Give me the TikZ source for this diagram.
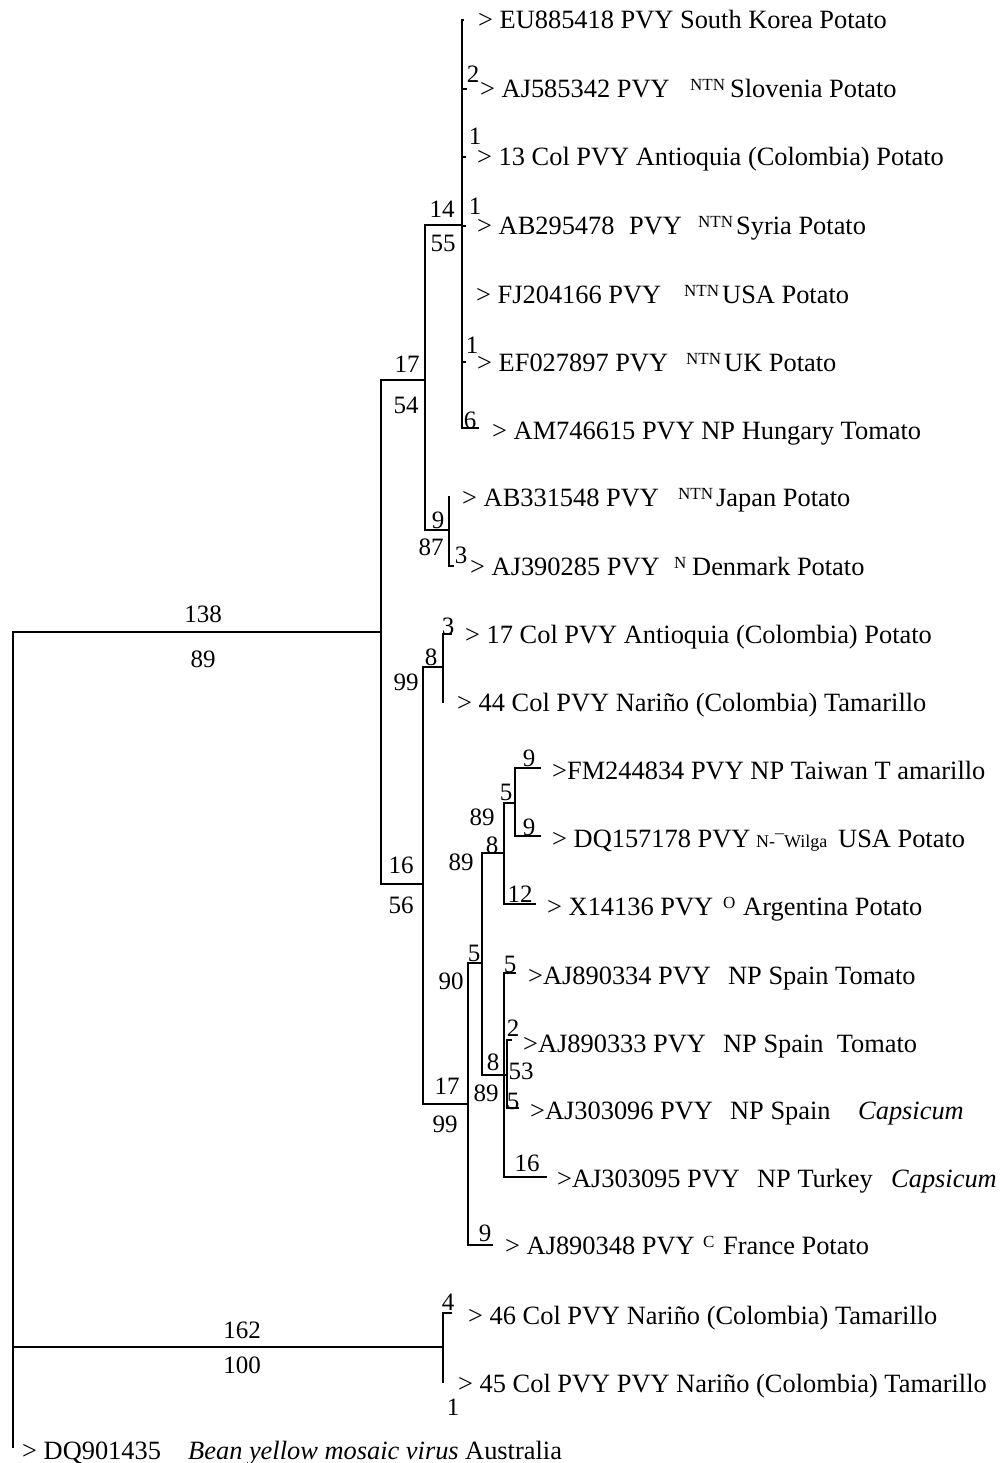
\documentclass[tikz,border=0pt]{standalone}
\usepackage{fontspec}
\setmainfont{Liberation Serif}
\newcommand\up[1]{\raisebox{7pt}{\fontsize{17}{17}\selectfont #1}}
\newcommand\w[2]{\makebox[#1pt][l]{#2}}
\begin{document}
\begin{tikzpicture}[x=1pt,y=-1pt,
  br/.style={line width=1.6pt, line cap=rect},
  tx/.style={anchor=base west, inner sep=0pt, font=\fontsize{26.4}{30}\selectfont},
  num/.style={anchor=center, inner sep=0pt, font=\fontsize{25}{30}\selectfont}]
\useasboundingbox (0,0) rectangle (999,1463);
% internal nodes
\coordinate (R) at (13,1000);
\coordinate (A) at (381,632);
\coordinate (C) at (425,380);
\coordinate (D) at (462,225);
\coordinate (E) at (449,530);
\coordinate (B) at (423,884);
\coordinate (M) at (443,667);
\coordinate (F) at (468,1104);
\coordinate (G) at (482,963);
\coordinate (H) at (504,853);
\coordinate (I) at (515,803);
\coordinate (J) at (504,1075);
\coordinate (K) at (507,1075);
\coordinate (L) at (443,1347);
% tips
\coordinate (t1) at (463,20);
\coordinate (t2) at (466,89);
\coordinate (t3) at (465,157);
\coordinate (t4) at (465,226);
\coordinate (t5) at (462,294);
\coordinate (t6) at (465,362);
\coordinate (t7) at (478,428);
\coordinate (t8) at (449,497);
\coordinate (t9) at (453,566);
\coordinate (t10) at (451,634);
\coordinate (t11) at (443,702);
\coordinate (t12) at (540,768);
\coordinate (t13) at (540,836);
\coordinate (t14) at (535,904);
\coordinate (t15) at (515,973);
\coordinate (t16) at (511,1040);
\coordinate (t17) at (518,1108);
\coordinate (t18) at (546,1177);
\coordinate (t19) at (492,1245);
\coordinate (t20) at (451,1313);
\coordinate (t21) at (443,1382);
\coordinate (t22) at (13,1447);
% branches
\draw[br] (R) |- (A);
\draw[br] (R) |- (L);
\draw[br] (R) |- (t22);
\draw[br] (A) |- (C);
\draw[br] (A) |- (B);
\draw[br] (C) |- (D);
\draw[br] (C) |- (E);
\foreach \t in {t1,t2,t3,t4,t5,t6,t7} \draw[br] (D) |- (\t);
\draw[br] (E) |- (t8);
\draw[br] (E) |- (t9);
\draw[br] (B) |- (M);
\draw[br] (B) |- (F);
\draw[br] (M) |- (t10);
\draw[br] (M) |- (t11);
\draw[br] (F) |- (G);
\draw[br] (F) |- (t19);
\draw[br] (G) |- (H);
\draw[br] (G) |- (J);
\draw[br] (H) |- (I);
\draw[br] (H) |- (t14);
\draw[br] (I) |- (t12);
\draw[br] (I) |- (t13);
\draw[br] (J) |- (t15);
\draw[br] (J) |- (K);
\draw[br] (J) |- (t18);
\draw[br] (K) |- (t16);
\draw[br] (K) |- (t17);
\draw[br] (L) |- (t20);
\draw[br] (L) |- (t21);
% taxon labels
\node[tx] (n1) at (478,29) {> EU885418 PVY South Korea Potato};
\node[tx] (n2) at (480,98) {\w{210}{> AJ585342 PVY}\w{40}{\up{NTN}}Slovenia Potato};
\node[tx] (n3) at (477,166) {> 13 Col PVY Antioquia (Colombia) Potato};
\node[tx] (n4) at (477,235) {\w{152}{> AB295478}\w{69}{PVY}\w{38}{\up{NTN}}Syria Potato};
\node[tx] (n5) at (476,303) {\w{208}{> FJ204166 PVY}\w{38}{\up{NTN}}USA Potato};
\node[tx] (n6) at (477,371) {\w{209}{> EF027897 PVY}\w{38}{\up{NTN}}UK Potato};
\node[tx] (n7) at (492,439) {> AM746615 PVY NP Hungary Tomato};
\node[tx] (n8) at (462,506) {\w{216}{> AB331548 PVY}\w{38}{\up{NTN}}Japan Potato};
\node[tx] (n9) at (470,575) {\w{204}{> AJ390285 PVY}\w{18}{\up{N}}Denmark Potato};
\node[tx] (n10) at (465,643) {> 17 Col PVY Antioquia (Colombia) Potato};
\node[tx] (n11) at (457,711) {> 44 Col PVY Nariño (Colombia) Tamarillo};
\node[tx] (n12) at (552,779) {>FM244834 PVY NP Taiwan T amarillo};
\node[tx] (n13) at (552,847) {\w{204}{> DQ157178 PVY}\w{82}{\fontsize{18}{18}\selectfont N-¯Wilga}USA Potato};
\node[tx] (n14) at (547,915) {\w{176}{> X14136 PVY}\w{20}{\up{O}}Argentina Potato};
\node[tx] (n15) at (528,984) {\w{200}{>AJ890334 PVY}NP Spain Tomato};
\node[tx] (n16) at (523,1052) {\w{200}{>AJ890333 PVY}NP Spain\ \ Tomato};
\node[tx] (n17) at (530,1119) {\w{200}{>AJ303096 PVY}\w{128}{NP Spain}\textit{Capsicum}};
\node[tx] (n18) at (557,1187) {\w{200}{>AJ303095 PVY}\w{134}{NP Turkey}\textit{Capsicum}};
\node[tx] (n19) at (505,1254) {\w{198}{> AJ890348 PVY}\w{20}{\up{C}}France Potato};
\node[tx] (n20) at (468,1324) {> 46 Col PVY Nariño (Colombia) Tamarillo};
\node[tx] (n21) at (458,1392) {> 45 Col PVY PVY Nariño (Colombia) Tamarillo};
\node[tx] (n22) at (22,1459) {\w{166}{> DQ901435}\w{277}{\textit{Bean yellow mosaic virus}}Australia};
% branch numbers
\node[num] (b1) at (203,614) {138};
\node[num] (b2) at (203,659) {89};
\node[num] (b3) at (242,1330) {162};
\node[num] (b4) at (242,1365) {100};
\node[num] (b5) at (407,364) {17};
\node[num] (b6) at (406,405) {54};
\node[num] (b7) at (442,209) {14};
\node[num] (b8) at (443,243) {55};
\node[num] (b9) at (473,74) {2};
\node[num] (b10) at (475,136) {1};
\node[num] (b11) at (475,206) {1};
\node[num] (b12) at (472,345) {1};
\node[num] (b13) at (470,420) {6};
\node[num] (b14) at (438,520) {9};
\node[num] (b15) at (431,547) {87};
\node[num] (b16) at (461,555) {3};
\node[num] (b17) at (448,626) {3};
\node[num] (b18) at (431,657) {8};
\node[num] (b19) at (406,682) {99};
\node[num] (b20) at (401,865) {16};
\node[num] (b21) at (401,905) {56};
\node[num] (b22) at (529,758) {9};
\node[num] (b23) at (506,792) {5};
\node[num] (b24) at (482,817) {89};
\node[num] (b25) at (529,827) {9};
\node[num] (b26) at (492,845) {8};
\node[num] (b27) at (461,862) {89};
\node[num] (b28) at (520,894) {12};
\node[num] (b29) at (474,953) {5};
\node[num] (b30) at (451,981) {90};
\node[num] (b31) at (510,964) {5};
\node[num] (b32) at (513,1028) {2};
\node[num] (b33) at (493,1062) {8};
\node[num] (b34) at (521,1071) {53};
\node[num] (b35) at (447,1086) {17};
\node[num] (b36) at (486,1093) {89};
\node[num] (b37) at (513,1101) {5};
\node[num] (b38) at (445,1124) {99};
\node[num] (b39) at (527,1163) {16};
\node[num] (b40) at (485,1233) {9};
\node[num] (b41) at (448,1302) {4};
\node[num] (b42) at (453,1407) {1};
\end{tikzpicture}
\end{document}
